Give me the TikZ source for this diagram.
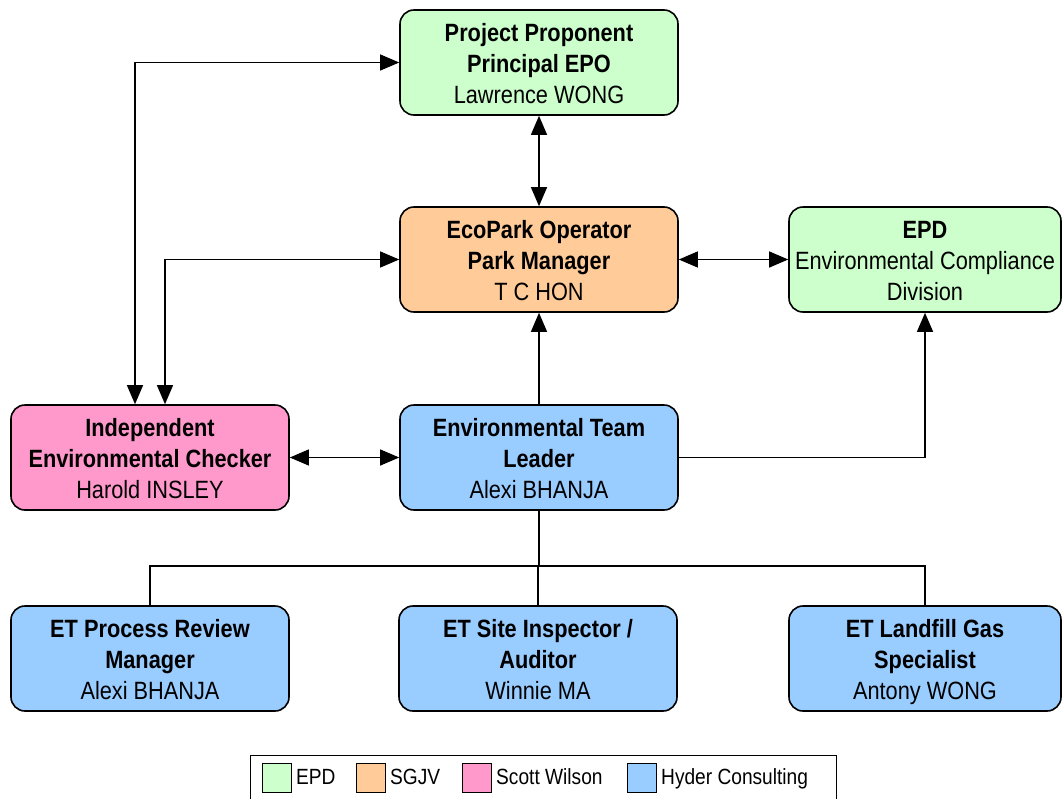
\documentclass[tikz,border=0pt]{standalone}
\usepackage{fontspec}
\setmainfont{Liberation Sans}[FakeStretch=0.87]
\usetikzlibrary{arrows.meta}
\definecolor{cepd}{HTML}{CCFFCC}
\definecolor{csgjv}{HTML}{FFCC99}
\definecolor{csw}{HTML}{FF99CC}
\definecolor{chyd}{HTML}{99CCFF}
\tikzset{
  orgbox/.style={draw=black, line width=1.6pt, rounded corners=14pt, minimum width=278pt, minimum height=105pt, align=center, inner sep=2pt, font=\fontsize{25}{31}\selectfont},
  conn/.style={line width=1.2pt, draw=black},
  tip/.style={-{Triangle[length=19pt,width=16pt]}},
  dtip/.style={{Triangle[length=19pt,width=16pt]}-{Triangle[length=19pt,width=16pt]}},
  legsq/.style={draw=black, line width=1.4pt, minimum width=29pt, minimum height=29pt, inner sep=0pt},
  legtxt/.style={anchor=base west, inner sep=0pt, font=\fontsize{22}{26}\selectfont}
}
\newcommand{\lstrut}{\rule[-7pt]{0pt}{7pt}}
\newcommand{\tstrut}{\rule{0pt}{26pt}}
\begin{document}
\begin{tikzpicture}[x=1pt,y=-1pt]
\useasboundingbox (0,0) rectangle (1062,798);
\node[orgbox, fill=cepd] (pp) at (539,62.5) {\tstrut\textbf{Project Proponent}\\\textbf{Principal EPO}\\Lawrence WONG\lstrut};
\node[orgbox, fill=csgjv] (eco) at (539,259.5) {\tstrut\textbf{EcoPark Operator}\\\textbf{Park Manager}\\T C HON\lstrut};
\node[orgbox, fill=cepd, minimum width=272pt] (epd) at (925,259.5) {\tstrut\textbf{EPD}\\Environmental Compliance\\Division\lstrut};
\node[orgbox, fill=csw] (iec) at (150,457.5) {\tstrut\textbf{Independent}\\\textbf{Environmental Checker}\\Harold INSLEY\lstrut};
\node[orgbox, fill=chyd] (etl) at (539,457.5) {\tstrut\textbf{Environmental Team}\\\textbf{Leader}\\Alexi BHANJA\lstrut};
\node[orgbox, fill=chyd] (prm) at (150,658.5) {\tstrut\textbf{ET Process Review}\\\textbf{Manager}\\Alexi BHANJA\lstrut};
\node[orgbox, fill=chyd] (sia) at (538,658.5) {\tstrut\textbf{ET Site Inspector /}\\\textbf{Auditor}\\Winnie MA\lstrut};
\node[orgbox, fill=chyd, minimum width=272pt] (lgs) at (925,658.5) {\tstrut\textbf{ET Landfill Gas}\\\textbf{Specialist}\\Antony WONG\lstrut};

\coordinate (c1) at (135,62.5);
\coordinate (c2) at (165,259.5);
\coordinate (bus) at (539,566);
\draw[conn, dtip] (iec.north -| c1) -- (c1) -- (pp.west);
\draw[conn, dtip] (iec.north -| c2) -- (c2) -- (eco.west);
\draw[conn, dtip] (pp.south) -- (eco.north);
\draw[conn, dtip] (eco.east) -- (epd.west);
\draw[conn, dtip] (iec.east) -- (etl.west);
\draw[conn, tip] (etl.north) -- (eco.south);
\draw[conn, tip] (etl.east) -| (epd.south);
\draw[conn] (etl.south) -- (bus);
\draw[conn] (prm.north) |- (bus) -| (lgs.north);
\draw[conn] (bus) -- (bus -| sia.north) -- (sia.north);

\node[draw=black, line width=1.2pt, minimum width=586pt, minimum height=50pt, anchor=north west, inner sep=0pt] (leg) at (250,755) {};
\node[legsq, fill=cepd, anchor=north west] (l1) at (262,763) {};
\node[legtxt] (t1) at (296,784) {EPD};
\node[legsq, fill=csgjv, anchor=north west] (l2) at (356,763) {};
\node[legtxt] (t2) at (390,784) {SGJV};
\node[legsq, fill=csw, anchor=north west] (l3) at (462,763) {};
\node[legtxt] (t3) at (496,784) {Scott Wilson};
\node[legsq, fill=chyd, anchor=north west] (l4) at (627,763) {};
\node[legtxt] (t4) at (661,784) {Hyder Consulting};
\end{tikzpicture}
\end{document}
